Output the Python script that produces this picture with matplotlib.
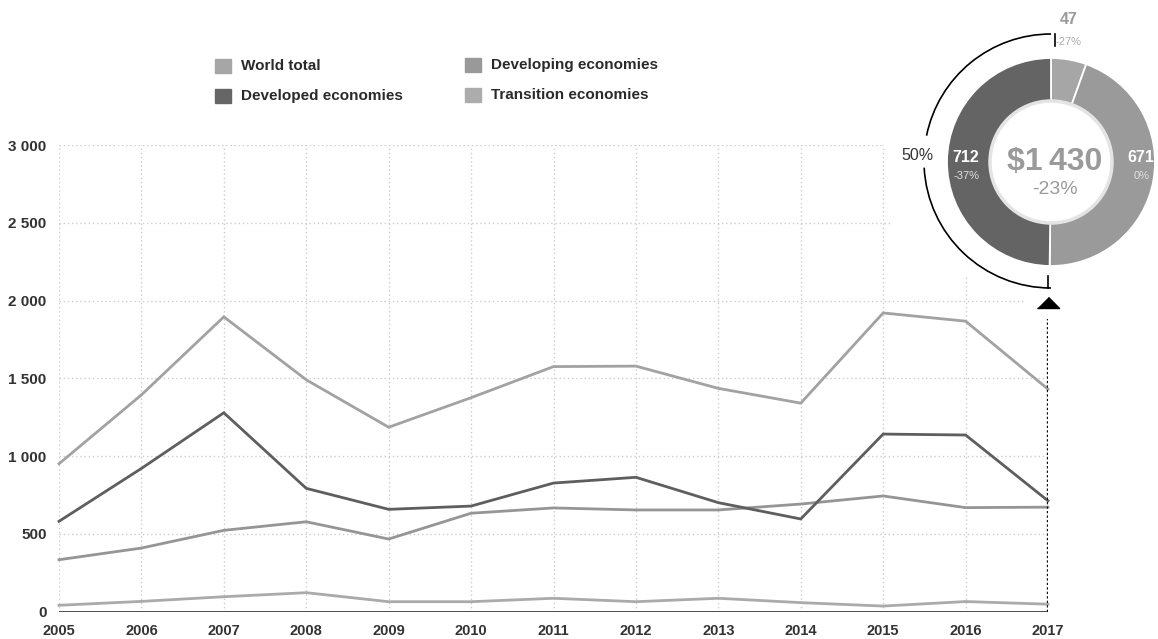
import matplotlib
matplotlib.use("Agg")
import matplotlib.pyplot as plt
from matplotlib.patches import Rectangle, Circle, Arc
import numpy as np

plt.rcParams['font.family'] = ['Liberation Sans Narrow', 'Liberation Sans', 'DejaVu Sans']

# data (billions of dollars)
years = list(range(2005, 2018))
world = [950, 1393, 1895, 1490, 1185, 1375, 1575, 1578, 1435, 1340, 1920, 1867, 1430]
developed = [580, 920, 1278, 792, 657, 678, 826, 863, 700, 595, 1141, 1135, 712]
developing = [333, 408, 522, 577, 466, 632, 666, 653, 653, 691, 743, 668, 671]
transition = [40, 65, 95, 121, 63, 63, 85, 63, 85, 57, 35, 64, 47]

labels = ['World total', 'Developed economies', 'Developing economies', 'Transition economies']
line_colors = ['#a2a2a2', '#5e5e5e', '#959595', '#aaaaaa']
swatch_colors = ['#a6a6a6', '#666666', '#999999', '#acacac']
ytick_vals = [0, 500, 1000, 1500, 2000, 2500, 3000]
ytick_labels = ['0', '500', '1 000', '1 500', '2 000', '2 500', '3 000']

W, H = 1158, 639
fig = plt.figure(figsize=(W / 100, H / 100), dpi=100)
ax = fig.add_axes([59 / W, (H - 611.5) / H, (1048 - 59) / W, (611.5 - 145) / H])
ax.set_xlim(2005, 2017)
ax.set_ylim(0, 3000)
for s in ax.spines.values():
    s.set_visible(False)

# dotted grid, shortened under the donut
grid_kw = dict(color='#cccccc', lw=1, linestyles=(0, (1, 2)), zorder=1)
hend = {2000: 2016.7, 2500: 2015.1, 3000: 2015.0}
for v in ytick_vals[1:]:
    ax.hlines(v, 2005, hend.get(v, 2017), **grid_kw)
for yr in years[:-2]:
    ax.vlines(yr, 0, 3000, **grid_kw)
ax.vlines(2016, 0, 2165, **grid_kw)

series = [world, developed, developing, transition]
order = [3, 2, 0, 1]
for i in order:
    ax.plot(years, series[i], color=line_colors[i], lw=2, zorder=3,
            clip_on=False, solid_joinstyle='miter')

ax.axhline(0, color='#3c3c3c', lw=2, zorder=4)

# marker line for latest year
ax.vlines(2017, 0, 1880, color='#111111', lw=1.7, linestyles=(0, (1, 0.9)), zorder=5)
ax.plot([2017], [1950], marker=[(-1, 0), (1, 0), (0, 1)], ms=16, color='black',
        clip_on=False, zorder=6)

ax.set_xticks(years)
ax.set_xticklabels([str(y) for y in years], fontsize=10.5, color='#333333', fontweight='bold')
ax.set_yticks(ytick_vals)
ax.set_yticklabels(ytick_labels, fontsize=11, color='#333333', fontweight='bold')
ax.tick_params(length=0, pad=9)
ax.tick_params(axis='x', pad=9)

# overlay in pixel coordinates (y up)
ov = fig.add_axes([0, 0, 1, 1], zorder=10)
ov.patch.set_alpha(0)

def Y(y):
    return H - y

# legend
leg_pos = [(215, 66), (215, 96), (465, 65), (465, 95)]
for (x, y), lab, c in zip(leg_pos, labels, swatch_colors):
    ov.add_patch(Rectangle((x, Y(y) - 7), 16, 14, color=c))
    ov.text(x + 26, Y(y), lab, fontsize=11, fontweight='bold', color='#2a2a2a',
            va='center', ha='left')

# donut of last year; the tiny slice gets a minimum visible share
cx, cy = 1051, 162
last = [transition[-1], developing[-1], developed[-1]]
min_share = 0.055 * sum(last)
shown = list(last)
if shown[0] < min_share:
    shown[1] -= min_share - shown[0]
    shown[0] = min_share
ov.pie(shown, colors=['#a6a6a6', '#9a9a9a', '#646464'], startangle=90, counterclock=False,
       radius=104, center=(cx, Y(cy)), frame=True,
       wedgeprops=dict(width=43, edgecolor='white', linewidth=1.3))
ov.add_patch(Circle((cx, Y(cy)), 61, facecolor='white', edgecolor='#e4e4e4', lw=2.5))

def pct(a, b):
    return f"{round((a - b) / b * 100):d}%"

total = world[-1]
ov.text(cx + 4, Y(162), f"${total // 1000}\u2009{total % 1000:03d}", fontsize=23,
        fontweight='bold', color='#9a9a9a', ha='center', va='center')
ov.text(cx + 4, Y(189), pct(world[-1], world[-2]), fontsize=14, color='#9a9a9a',
        ha='center', va='center')
ov.text(966, Y(157), str(developed[-1]), fontsize=11.5, fontweight='bold', color='white',
        ha='center', va='center')
ov.text(966, Y(176), pct(developed[-1], developed[-2]), fontsize=8, color='#e0e0e0',
        ha='center', va='center')
ov.text(1141, Y(157), str(developing[-1]), fontsize=11.5, fontweight='bold', color='white',
        ha='center', va='center')
ov.text(1142, Y(176), pct(developing[-1], developing[-2]), fontsize=8, color='#e0e0e0',
        ha='center', va='center')
ov.text(1069, Y(20), str(transition[-1]), fontsize=11.5, fontweight='bold', color='#9a9a9a',
        ha='center', va='center')
ov.text(1069, Y(42), pct(transition[-1], transition[-2]), fontsize=8, color='#aaaaaa',
        ha='center', va='center')

# bracket showing developed share
r = 127
bx, by = 1051, 161
ov.add_patch(Arc((bx, Y(by)), 2 * r, 2 * r, theta1=90, theta2=168.5, color='black', lw=1.2))
ov.add_patch(Arc((bx, Y(by)), 2 * r, 2 * r, theta1=183, theta2=270, color='black', lw=1.2))
ov.plot([bx + 4, bx + 4], [Y(by - r), Y(by - r + 12)], color='black', lw=1.2)
ov.plot([bx - 3, bx - 3], [Y(by + r), Y(by + r - 12)], color='black', lw=1.2)
share = round(developed[-1] / world[-1] * 100)
ov.text(917, Y(155), f"{share}%", fontsize=11.5, color='#333333', ha='center', va='center')

ov.set_xlim(0, W)
ov.set_ylim(0, H)
ov.set_aspect('auto')
ov.axis('off')

fig.savefig('out.png', dpi=100)
